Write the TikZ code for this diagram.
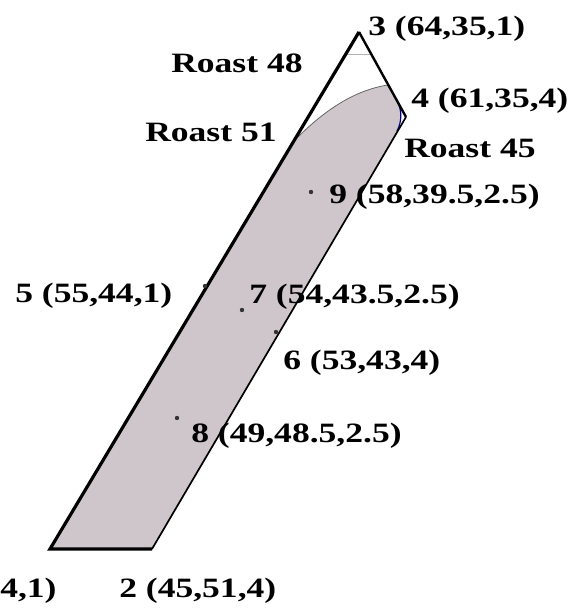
\documentclass[tikz,border=0pt]{standalone}
\usepackage{fontspec}
\setmainfont{Liberation Serif}
\definecolor{roastgray}{RGB}{207,198,203}

\begin{document}
\begin{tikzpicture}[x=1pt, y=-1pt, every node/.style={font=\bfseries\fontsize{28}{30}\selectfont, anchor=base west, inner sep=0pt, xscale=1.27}]
	\useasboundingbox (0,0) rectangle (584,609);
	\coordinate (p1) at (50,549);
	\coordinate (p2) at (152,549);
	\coordinate (p3) at (359,32);
	\coordinate (p4) at (406,117);
	\coordinate (c51) at (298,137);
	\coordinate (c48) at (388,85);
	\coordinate (b1) at (397.5,102);
	\coordinate (b2) at (397,131);
	\coordinate (a1) at (346,54);
	\coordinate (a2) at (371,54);
	\coordinate (d5) at (205,286);
	\coordinate (d6) at (276,332);
	\coordinate (d7) at (242,310);
	\coordinate (d8) at (177,418);
	\coordinate (d9) at (311,192);
	% shaded region
	\fill[roastgray] (c51) -- (p1) -- (p2) -- (b2) .. controls (402,122) and (402,110) .. (b1) -- (c48) .. controls (355,90) and (325,110) .. (c51);
	\draw[black!60, line width=0.8pt] (c51) .. controls (325,110) and (355,90) .. (c48);
	\draw[blue!55!black, line width=1.2pt] (b1) .. controls (402,110) and (402,122) .. (b2);
	\draw[black!30, line width=0.8pt] (a1) -- (a2);
	% edges
	\draw[line width=3.2pt] (p2) -- (p1) -- (p3);
	\draw[line width=2.4pt] (p3) -- (p4);
	\draw[line width=1.7pt] (p4) -- (p2);
	\foreach \d in {d5,d6,d7,d8,d9} {\fill[black!80] (\d) circle (2.2);}
	% labels
	\node (l3) at (368,36) {3 (64,35,1)};
	\node (r48) at (171,73) {Roast 48};
	\node (l4) at (411,108) {4 (61,35,4)};
	\node (r51) at (145,142) {Roast 51};
	\node (r45) at (404,158) {Roast 45};
	\node (l9) at (329,204) {9 (58,39.5,2.5)};
	\node (l5) at (15,302) {5 (55,44,1)};
	\node (l7) at (249,303) {7 (54,43.5,2.5)};
	\node (l6) at (283,369) {6 (53,43,4)};
	\node (l8) at (191,442) {8 (49,48.5,2.5)};
	\node (l1) at (0,597) {4,1)};
	\node (l2) at (119,597) {2 (45,51,4)};
\end{tikzpicture}
\end{document}
